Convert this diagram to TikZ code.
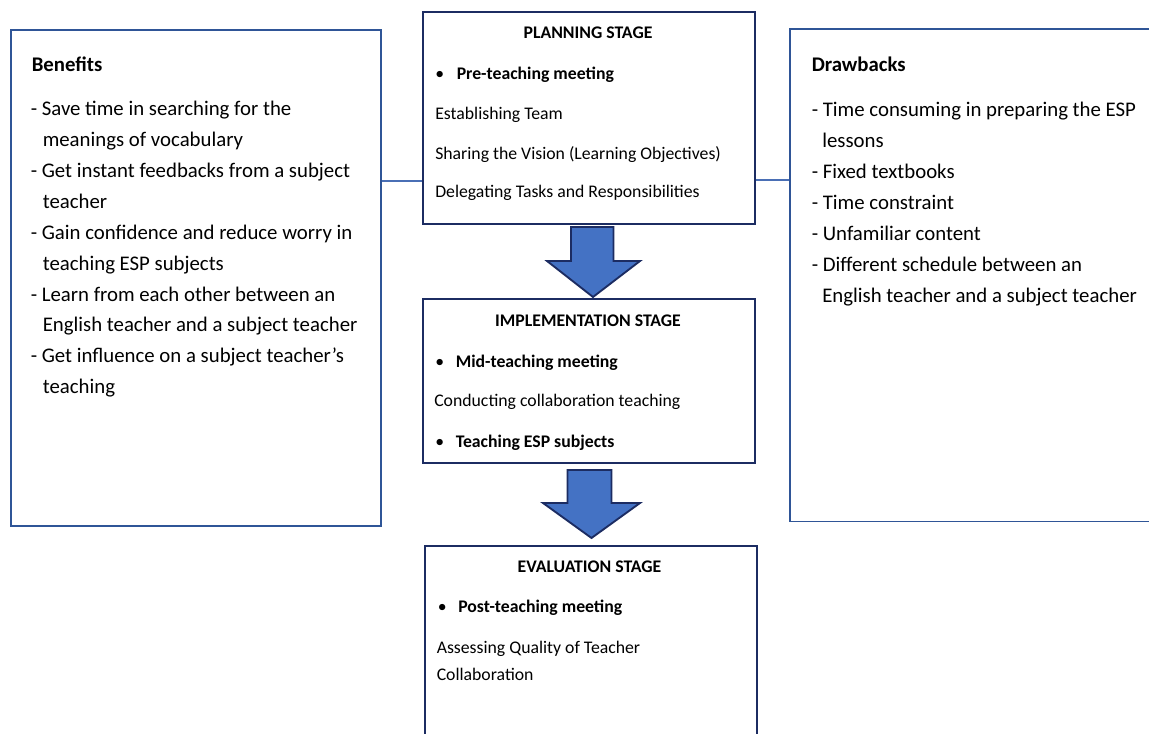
\documentclass[tikz,border=0pt]{standalone}
\usepackage{fontspec}
\setmainfont{Carlito}
\usetikzlibrary{fit}
\definecolor{sideblue}{HTML}{2F5597}
\definecolor{navy}{HTML}{1C2C62}
\definecolor{arrowfill}{HTML}{4472C4}
\definecolor{linkblue}{HTML}{4A6FB5}
\tikzset{
  sidebox/.style={draw=sideblue, line width=1.3pt, inner sep=0pt},
  stagebox/.style={draw=navy, line width=2.1pt, inner sep=0pt},
  bigtxt/.style={anchor=base west, inner sep=0pt, font=\fontsize{15.6}{18}\selectfont},
  bighead/.style={anchor=base west, inner sep=0pt, font=\fontsize{15.6}{18}\selectfont\bfseries},
  smalltxt/.style={anchor=base west, inner sep=0pt, font=\fontsize{13.3}{16}\selectfont},
  smallhead/.style={anchor=base, inner sep=0pt, font=\fontsize{13.3}{16}\selectfont\bfseries},
  bulletxt/.style={anchor=base west, inner sep=0pt, font=\fontsize{13.3}{16}\selectfont\bfseries},
  bulletdot/.style={anchor=base west, inner sep=0pt, font=\fontsize{13.3}{16}\selectfont},
  link/.style={draw=linkblue, line width=1pt},
  blockarrow/.style={fill=arrowfill, draw=navy, line width=1.4pt, line join=miter},
}
\begin{document}
\begin{tikzpicture}[x=0.75pt,y=-0.75pt]
\useasboundingbox (0,0) rectangle (1149,734);
\clip (0,0) rectangle (1149,734);
\fill[white] (0,0) rectangle (1149,734);

% side boxes
\node[sidebox, fit={(11,30) (381,526)}] (benefits) {};
\node[sidebox, fit={(790,29) (1175,521.5)}] (drawbacks) {};
% stage boxes
\node[stagebox, fit={(423,12) (755,224)}] (planning) {};
\node[stagebox, fit={(423,299) (755,463)}] (implementation) {};
\node[stagebox, fit={(425,546) (757,760)}] (evaluation) {};

% connectors
\coordinate (ly) at (0,181);
\coordinate (ry) at (0,180);
\path[link] (benefits.east |- ly) -- (planning.west |- ly);
\path[link] (planning.east |- ry) -- (drawbacks.west |- ry);

% block arrows
\draw[blockarrow] (571,227) -- (613.5,227) -- (613.5,261) -- (640,261) -- (593,297) -- (547,261) -- (571,261) -- cycle;
\draw[blockarrow] (567.5,470) -- (611.5,470) -- (611.5,503) -- (640,503) -- (591.5,538) -- (543,503) -- (567.5,503) -- cycle;

% Benefits text
\node[bighead] (benhead) at (31.5,71.5) {Benefits};
\foreach \i/\x/\t in {
  1/30.5/{- Save time in searching for the},
  2/42.5/{meanings of vocabulary},
  3/30.5/{- Get instant feedbacks from a subject},
  4/42.5/{teacher},
  5/30.5/{- Gain confidence and reduce worry in},
  6/42.5/{teaching ESP subjects},
  7/30.5/{- Learn from each other between an},
  8/42.5/{English teacher and a subject teacher},
  9/30.5/{- Get influence on a subject teacher’s},
  10/42.5/{teaching}}{
  \pgfmathsetmacro{\yy}{116+30.85*(\i-1)}
  \node[bigtxt] (ben\i) at (\x,\yy) {\t};
}

% Drawbacks text
\node[bighead] (drahead) at (811.5,72) {Drawbacks};
\foreach \i/\x/\t in {
  1/811.5/{- Time consuming in preparing the ESP},
  2/822/{lessons},
  3/811.5/{- Fixed textbooks},
  4/811.5/{- Time constraint},
  5/811.5/{- Unfamiliar content},
  6/811.5/{- Different schedule between an},
  7/822/{English teacher and a subject teacher}}{
  \pgfmathsetmacro{\yy}{117+30.85*(\i-1)}
  \node[bigtxt] (dra\i) at (\x,\yy) {\t};
}

% Planning stage
\node[smallhead] (plhead) at (588,39) {PLANNING STAGE};
\node[bulletdot] (plbul) at (435,80) {•};
\node[bulletxt] (plmeet) at (456.5,80) {Pre-teaching meeting};
\node[smalltxt] (pl1) at (435,119.5) {Establishing Team};
\node[smalltxt] (pl2) at (435,159.5) {Sharing the Vision (Learning Objectives)};
\node[smalltxt] (pl3) at (435,198) {Delegating Tasks and Responsibilities};

% Implementation stage
\node[smallhead] (imhead) at (588,326.5) {IMPLEMENTATION STAGE};
\node[bulletdot] (imbul) at (435,367) {•};
\node[bulletxt] (immeet) at (455.5,367) {Mid-teaching meeting};
\node[smalltxt] (im1) at (434,406.5) {Conducting collaboration teaching};
\node[bulletdot] (imbul2) at (435,447.5) {•};
\node[bulletxt] (imesp) at (455.5,447.5) {Teaching ESP subjects};

% Evaluation stage
\node[smallhead] (evhead) at (589.5,572.5) {EVALUATION STAGE};
\node[bulletdot] (evbul) at (437.5,612.5) {•};
\node[bulletxt] (evmeet) at (458,612.5) {Post-teaching meeting};
\node[smalltxt] (ev1) at (436.5,653) {Assessing Quality of Teacher};
\node[smalltxt] (ev2) at (436.5,680) {Collaboration};
\end{tikzpicture}
\end{document}
